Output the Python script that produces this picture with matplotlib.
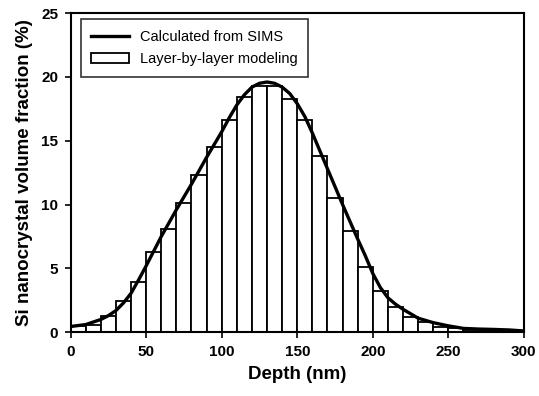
import numpy as np
import matplotlib
matplotlib.use("Agg")
import matplotlib.pyplot as plt

plt.rcParams["font.family"] = ["Liberation Sans", "DejaVu Sans"]

# ── data ──────────────────────────────────────────────────────────────────────
# layer-by-layer model: 10 nm layers, left edges
layer_left = list(range(0, 300, 10))
layer_frac = [0.5, 0.55, 1.27, 2.47, 3.96, 6.3, 8.1, 10.1, 12.3, 14.5,
              16.6, 18.4, 19.3, 19.3, 18.3, 16.6, 13.8, 10.5, 7.9, 5.1,
              3.2, 1.95, 1.22, 0.83, 0.44, 0.3, 0.15, 0.12, 0.1, 0.06]

# SIMS-derived curve
sims_depth = [0, 10, 20, 25, 30, 35, 40, 45, 50, 60, 70, 80, 90, 100, 105,
              110, 115, 120, 125, 130, 135, 140, 145, 150, 155, 160, 170,
              180, 190, 195, 200, 205, 210, 215, 220, 230, 240, 250, 260,
              270, 280, 290, 300]
sims_frac = [0.45, 0.6, 1.0, 1.3, 1.7, 2.3, 3.05, 4.1, 5.2, 7.5, 9.6, 11.6,
             13.7, 15.7, 16.8, 17.8, 18.6, 19.2, 19.5, 19.6, 19.5, 19.2,
             18.7, 17.9, 16.9, 15.6, 12.8, 10.0, 7.3, 6.0, 4.6, 3.5, 2.7,
             2.2, 1.8, 1.1, 0.75, 0.5, 0.3, 0.25, 0.22, 0.18, 0.1]

# ── plot ──────────────────────────────────────────────────────────────────────
fig = plt.figure(figsize=(5.39, 3.96), dpi=100)
ax = fig.add_axes([0.131, 0.161, 0.841, 0.806])

ax.bar(layer_left, layer_frac, width=10, align="edge", color="white",
       edgecolor="black", linewidth=1.3, label="Layer-by-layer modeling", zorder=2)
ax.plot(sims_depth, sims_frac, color="black", lw=2.4,
        label="Calculated from SIMS", zorder=3)

ax.set_xlim(0, 300)
ax.set_ylim(0, 25)
ax.set_xticks(range(0, 301, 50))
ax.set_yticks(range(0, 26, 5))
ax.tick_params(direction="out", length=4, width=1.2, labelsize=11, pad=5)
for lbl in ax.get_xticklabels() + ax.get_yticklabels():
    lbl.set_fontweight("bold")
for sp in ax.spines.values():
    sp.set_linewidth(1.5)

ax.set_xlabel("Depth (nm)", fontsize=13.5, fontweight="bold", labelpad=5)
ax.set_ylabel("Si nanocrystal volume fraction (%)", fontsize=13.5,
              fontweight="bold", labelpad=6)

leg = ax.legend(loc="upper left", bbox_to_anchor=(0.022, 0.98), fontsize=10.5,
                frameon=True, fancybox=False, edgecolor="black",
                handlelength=2.6, borderpad=0.7, labelspacing=0.6,
                borderaxespad=0)
leg.get_frame().set_linewidth(1.2)

fig.savefig("out.png", dpi=100)
